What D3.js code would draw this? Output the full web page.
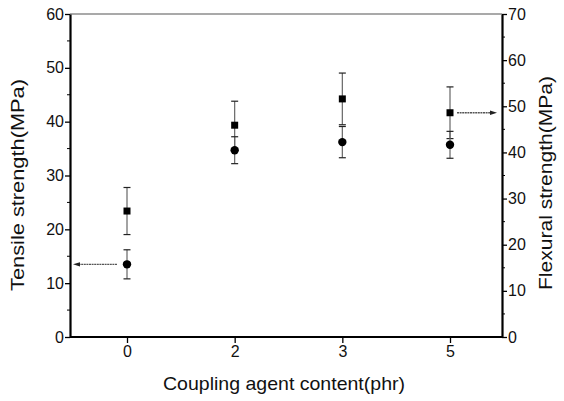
<!DOCTYPE html>
<html>
<head>
<meta charset="utf-8">
<script src="https://cdn.jsdelivr.net/npm/d3@7"></script>
<style>
  body { margin: 0; background: #fff; }
  text { font-family: Arial, "Liberation Sans", sans-serif; fill: #111; }
</style>
</head>
<body>
<div id="chart"></div>
<script>
var
  width = 564,
  height = 401;

// data
var contents = ["0", "2", "3", "5"];
var tensile = [13.5, 34.7, 36.2, 35.7];       // MPa, circles, left axis
var tensileErr = [2.7, 2.5, 2.9, 2.5];
var flexural = [27.3, 45.9, 51.6, 48.6];      // MPa, squares, right axis
var flexuralErr = [5.1, 5.2, 5.6, 5.6];
var leftTicks = [0, 10, 20, 30, 40, 50, 60];
var rightTicks = [0, 10, 20, 30, 40, 50, 60, 70];

var mLeft = 70, mRight = 502, mTop = 14, mBottom = 337;

var svg = d3.select("#chart")
  .append("svg")
  .attr("width", width)
  .attr("height", height);

var x = d3.scalePoint()
  .domain(contents)
  .range([127, 450]);

var yL = d3.scaleLinear().domain([0, 60]).range([mBottom, mTop]);
var yR = d3.scaleLinear().domain([0, 70]).range([mBottom, mTop]);

// frame
svg.append("line")
  .attr("x1", mLeft).attr("x2", mRight).attr("y1", mTop).attr("y2", mTop)
  .attr("stroke", "#555").attr("stroke-width", 1.2);

// left axis
var gL = svg.append("g").attr("transform", "translate(" + mLeft + ",0)")
  .call(d3.axisLeft(yL).tickValues(leftTicks).tickSize(5).tickPadding(1).tickSizeOuter(0));
gL.selectAll(".minor")
  .data(d3.range(5, 60, 10))
  .enter().append("line")
  .attr("x1", 0).attr("x2", -3)
  .attr("y1", function(d) { return yL(d); })
  .attr("y2", function(d) { return yL(d); })
  .attr("stroke", "#000");

// right axis
var gR = svg.append("g").attr("transform", "translate(" + mRight + ",0)")
  .call(d3.axisRight(yR).tickValues(rightTicks).tickSize(5).tickPadding(1).tickSizeOuter(0));
gR.selectAll(".minor")
  .data(d3.range(5, 70, 10))
  .enter().append("line")
  .attr("x1", 0).attr("x2", 3)
  .attr("y1", function(d) { return yR(d); })
  .attr("y2", function(d) { return yR(d); })
  .attr("stroke", "#000");

// bottom axis
var gB = svg.append("g").attr("transform", "translate(0," + mBottom + ")")
  .call(d3.axisBottom(x).tickSize(6).tickPadding(3).tickSizeOuter(0));
gB.select(".domain").attr("d", "M" + mLeft + ",0H" + mRight);

[gL, gR, gB].forEach(function(g) {
  g.attr("font-size", 16).attr("font-family", "Arial, 'Liberation Sans', sans-serif");
  g.select(".domain").attr("stroke", "#000").attr("stroke-width", 2.2);
  g.selectAll(".tick line").attr("stroke", "#000").attr("stroke-width", 1.3);
  g.selectAll(".tick text").attr("fill", "#111");
});

// axis titles
svg.append("text")
  .attr("transform", "translate(24,185) rotate(-90)")
  .attr("text-anchor", "middle")
  .attr("font-size", 19)
  .attr("textLength", 212).attr("lengthAdjust", "spacingAndGlyphs")
  .text("Tensile strength(MPa)");

svg.append("text")
  .attr("transform", "translate(552,183) rotate(-90)")
  .attr("text-anchor", "middle")
  .attr("font-size", 19)
  .attr("textLength", 214).attr("lengthAdjust", "spacingAndGlyphs")
  .text("Flexural strength(MPa)");

svg.append("text")
  .attr("x", 284)
  .attr("y", 390)
  .attr("text-anchor", "middle")
  .attr("font-size", 19)
  .attr("textLength", 242).attr("lengthAdjust", "spacingAndGlyphs")
  .text("Coupling agent content(phr)");

// error bars
function errorBars(values, errs, y, cls) {
  var g = svg.append("g").attr("class", cls);
  var rows = contents.map(function(c, i) { return { c: c, v: values[i], e: errs[i] }; });
  g.selectAll("line.stem").data(rows).enter().append("line")
    .attr("class", "stem")
    .attr("x1", function(d) { return x(d.c); })
    .attr("x2", function(d) { return x(d.c); })
    .attr("y1", function(d) { return y(d.v - d.e); })
    .attr("y2", function(d) { return y(d.v + d.e); })
    .attr("stroke", "#666").attr("stroke-width", 1.2);
  [-1, 1].forEach(function(s) {
    g.selectAll("line.cap" + s).data(rows).enter().append("line")
      .attr("x1", function(d) { return x(d.c) - 3.5; })
      .attr("x2", function(d) { return x(d.c) + 3.5; })
      .attr("y1", function(d) { return y(d.v + s * d.e); })
      .attr("y2", function(d) { return y(d.v + s * d.e); })
      .attr("stroke", "#222").attr("stroke-width", 1.2);
  });
  return rows;
}

var flexRows = errorBars(flexural, flexuralErr, yR, "flex");
var tensRows = errorBars(tensile, tensileErr, yL, "tens");

svg.selectAll("rect.sq").data(flexRows).enter().append("rect")
  .attr("class", "sq")
  .attr("x", function(d) { return x(d.c) - 3.5; })
  .attr("y", function(d) { return yR(d.v) - 3.5; })
  .attr("width", 7).attr("height", 7)
  .attr("fill", "#000");

svg.selectAll("circle.ci").data(tensRows).enter().append("circle")
  .attr("class", "ci")
  .attr("cx", function(d) { return x(d.c); })
  .attr("cy", function(d) { return yL(d.v); })
  .attr("r", 4.2)
  .attr("fill", "#000");

// arrows pointing to the matching axis
function arrow(x1, x2, y) {
  var dir = x2 > x1 ? 1 : -1;
  svg.append("line")
    .attr("x1", x1).attr("x2", x2 - dir * 5).attr("y1", y).attr("y2", y)
    .attr("stroke", "#555").attr("stroke-width", 1.3)
    .attr("stroke-dasharray", "2,0.6");
  svg.append("path")
    .attr("d", "M" + x2 + "," + y + "L" + (x2 - dir * 7) + "," + (y - 2.2) + "L" + (x2 - dir * 7) + "," + (y + 2.2) + "Z")
    .attr("fill", "#222");
}
arrow(x(contents[0]) - 10, mLeft + 3, yL(tensile[0]));
arrow(x(contents[3]) + 7, mRight - 5, yR(flexural[3]));
</script>
</body>
</html>
